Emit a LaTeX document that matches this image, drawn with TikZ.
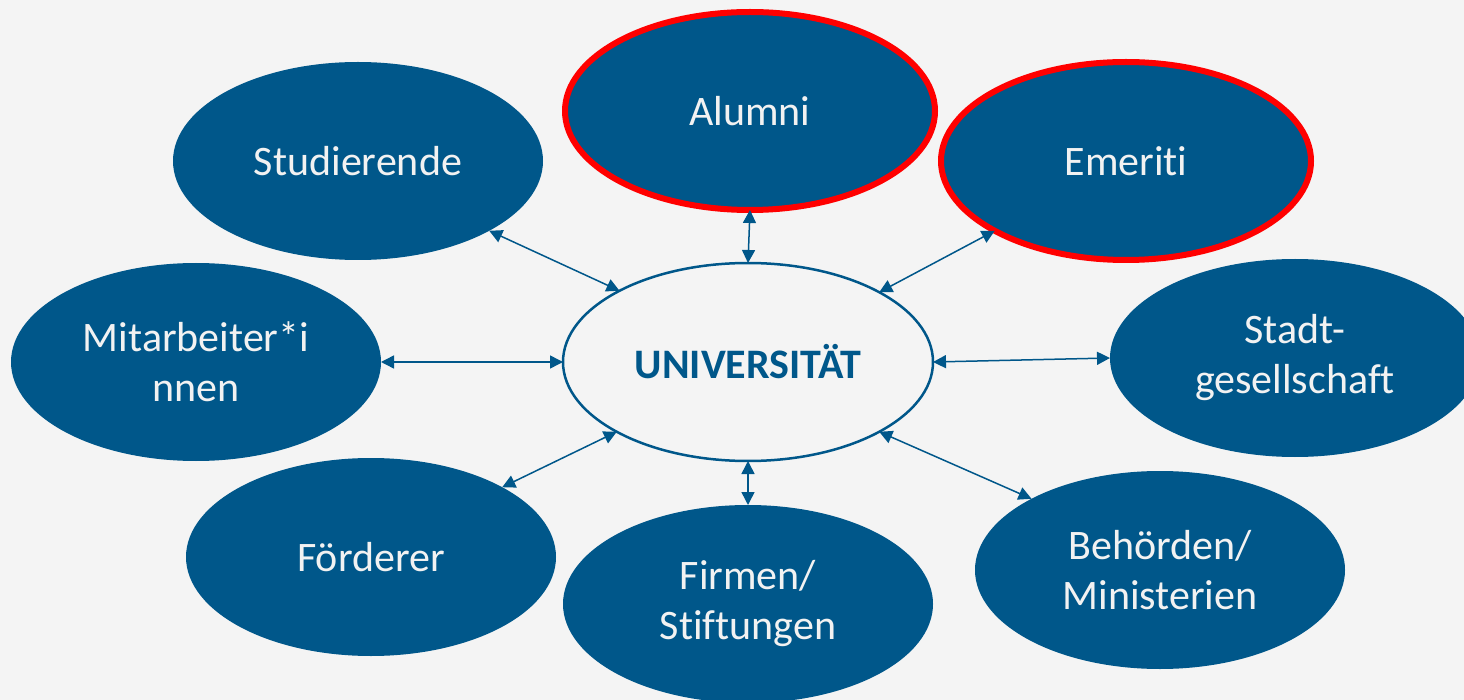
\documentclass[tikz,border=0pt]{standalone}
\usepackage{fontspec}
\setmainfont[Ligatures={NoCommon,NoContextual}]{Carlito}
\usetikzlibrary{shapes.geometric,arrows.meta}
\definecolor{uniblue}{RGB}{0,87,138}
\definecolor{bgcol}{RGB}{244,244,244}
\definecolor{txtcol}{RGB}{242,242,242}
\begin{document}
\begin{tikzpicture}[x=1pt,y=-1pt,
  group/.style={ellipse, fill=uniblue, minimum width=370pt, minimum height=198pt,
    inner sep=0pt, outer sep=0pt, text=txtcol, align=center,
    font=\fontsize{42}{50}\selectfont},
  hl/.style={draw=red, line width=6pt},
  twoline/.style={text depth=-3pt},
  unibox/.style={ellipse, draw=uniblue, line width=2.5pt, fill=bgcol,
    minimum width=370pt, minimum height=198pt, inner sep=0pt, outer sep=0pt,
    text=uniblue, font=\fontsize{42}{50}\selectfont\bfseries},
  link/.style={draw=uniblue, line width=1.5pt,
    {Triangle[length=13pt,width=13pt]}-{Triangle[length=13pt,width=13pt]}}]
\useasboundingbox (0,0) rectangle (1464,700);
\fill[bgcol] (0,0) rectangle (1464,700);
\clip (0,0) rectangle (1464,700);

\node[unibox] (uni) at (748,362) {UNIVERSIT\"AT};
\node[group] (stud) at (358,161) {Studierende};
\node[group,hl] (alum) at (750,111) {Alumni};
\node[group,hl] (emer) at (1126,161) {Emeriti};
\node[group] (mita) at (196,362) {Mitarbeiter*i\\nnen};
\node[group] (stadt) at (1295,358) {Stadt-\\gesellschaft};
\node[group] (foerd) at (371,557) {F\"orderer};
\node[group] (firm) at (748,604) {Firmen/\\Stiftungen};
\node[group] (behoe) at (1160,570) {Beh\"orden/\\Ministerien};

\draw[link] (stud.-28.2) -- (uni.151.8);
\draw[link] (alum.south) -- (uni.north);
\draw[link] (emer.208.2) -- (uni.28.2);
\draw[link] (mita.east) -- (uni.west);
\draw[link] (uni.east) -- (stadt.west);
\draw[link] (foerd.28.2) -- (uni.208.2);
\draw[link] (uni.south) -- (firm.north);
\draw[link] (behoe.151.8) -- (uni.-28.2);
\end{tikzpicture}
\end{document}
